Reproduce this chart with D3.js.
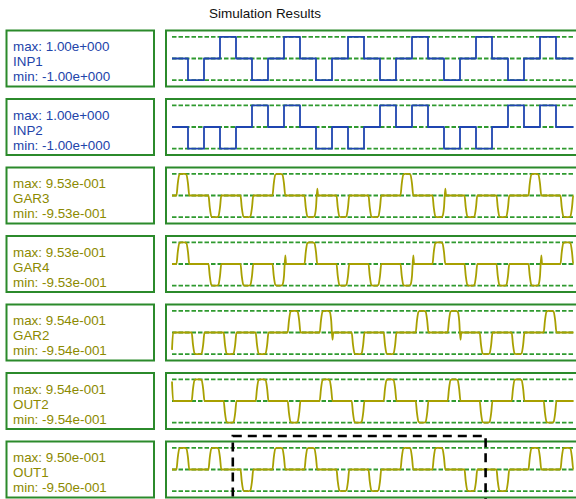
<!DOCTYPE html>
<html><head><meta charset="utf-8">
<script src="https://cdn.jsdelivr.net/npm/d3@7/dist/d3.min.js"></script>
<style>html,body{margin:0;padding:0;background:#fff;overflow:hidden}</style>
</head><body>
<script>
// ---- data ----
const title = "Simulation Results";
const signalNames = ["INP1", "INP2", "GAR3", "GAR4", "GAR2", "OUT2", "OUT1"];
const maxLabels = ["1.00e+000", "1.00e+000", "9.53e-001", "9.53e-001", "9.54e-001", "9.54e-001", "9.50e-001"];
const minLabels = ["-1.00e+000", "-1.00e+000", "-9.53e-001", "-9.53e-001", "-9.54e-001", "-9.54e-001", "-9.50e-001"];
const amplitudes = [1.0, 1.0, 0.953, 0.953, 0.954, 0.954, 0.950];
const timeDomain = [0, 25.1];

// step inputs: level on each unit interval [k, k+1)
const inp1Levels = [0,-1,0,1, 0,-1,0,1, 0,-1,0,1, 0,-1,0,1, 0,-1,0,1, 0,-1,0,1, 0];
const inp2Levels = [0,-1,0,-1,0,1,0,1, 0,-1,0,-1,0,1,0,1, 0,-1,0,-1,0,1,0,1, 0];

// pulse outputs: sign of pulse in each 2-unit slot
const gar3Slots = [1,-1,-1,1,-1,-1,-1,1,-1,-1,-1,1,-1];
const gar4Slots = [1,-1,-1,-1,1,-1,-1,-1,1,-1,-1,-1,1];
const gar2Slots = [-1,-1,-1,1,1,-1,-1,1,1,-1,-1,1];
const out2Slots = [1,-1,1,-1,1,-1,1,-1,1,-1,1,-1];
const out1Slots = [1,1,-1,1,1,-1,-1,1,1,-1,-1,1,1];
// first slot start time for each pulse signal
const slotStart = {GAR3: 0.28, GAR4: 0.28, GAR2: 1.23, OUT2: 1.23, OUT1: 0.28};
// glitches: [slot index, glitch level] at the trailing edge of a pulse
const gar3Glitches = [[4, 0.32], [8, 0.32]];
const gar4Glitches = [[3, 0.4], [7, 0.4], [11, 0.4]];
const gar2Glitches = [[4, -0.33], [8, -0.33]];
// initial value at t = 0
const initialValues = {GAR3: 0, GAR4: 0, GAR2: -0.8, OUT2: 0.9, OUT1: 0};
const highlightRange = [3.8, 19.6];

// ---- layout ----
const W = 576, H = 499;
const rowTop0 = 30.5, rowStep = 68.5, rowH = 56;
const plotX0 = 172, plotX1 = 573.6;
const blue = "#1f45b0", blueText = "#2244aa";
const olive = "#a8a000", oliveText = "#8c8a00";
const boxGreen = "#2b8a2b", gridGreen = "#2f9a2f";

const svg = d3.select("body").append("svg").attr("width", W).attr("height", H)
  .style("font-family", "'Liberation Sans', Arial, sans-serif");

svg.append("text").attr("x", 265).attr("y", 18).attr("text-anchor", "middle")
  .attr("font-size", 13.5).attr("fill", "#111").text(title);

const x = d3.scaleLinear().domain(timeDomain).range([plotX0, plotX1]);

function pulsePoints(name, slots, glitches) {
  const pts = [[0, initialValues[name]], [0.07, 0]];
  const g = new Map(glitches);
  const s0 = slotStart[name];
  slots.forEach((v, k) => {
    const ts = s0 + 2 * k, te = ts + 0.8;
    pts.push([ts, 0], [ts + 0.08, v * 0.55], [ts + 0.18, v * 0.96], [ts + 0.3, v],
             [te - 0.3, v], [te - 0.18, v * 0.96], [te - 0.08, v * 0.55]);
    if (g.has(k)) {
      pts.push([te, g.get(k)], [te + 0.05, 0]);
    } else {
      pts.push([te, 0]);
    }
  });
  pts.push([timeDomain[1], 0]);
  return pts.filter(p => p[0] <= timeDomain[1]);
}

const rows = [
  {type: "step", data: inp1Levels},
  {type: "step", data: inp2Levels},
  {type: "pulse", data: gar3Slots, glitches: gar3Glitches},
  {type: "pulse", data: gar4Slots, glitches: gar4Glitches},
  {type: "pulse", data: gar2Slots, glitches: gar2Glitches},
  {type: "pulse", data: out2Slots, glitches: []},
  {type: "pulse", data: out1Slots, glitches: []}
];

rows.forEach((r, i) => {
  const top = rowTop0 + rowStep * i;
  const name = signalNames[i];
  const isBlue = i < 2;
  const amp = amplitudes[i];
  const y = d3.scaleLinear().domain([-amp, amp]).range([top + 49.7, top + 6.3]);
  const yn = d3.scaleLinear().domain([-1, 1]).range([top + 49.7, top + 6.3]);

  // label box
  svg.append("rect").attr("x", 6.5).attr("y", top).attr("width", 147.5).attr("height", rowH)
    .attr("fill", "none").attr("stroke", boxGreen).attr("stroke-width", 2);
  const tc = isBlue ? blueText : oliveText;
  const lbl = svg.append("g").attr("font-size", 13.4).attr("fill", tc);
  lbl.append("text").attr("x", 13).attr("y", top + 20.8).text("max: " + maxLabels[i]);
  lbl.append("text").attr("x", 13).attr("y", top + 35.8).text(name);
  lbl.append("text").attr("x", 13).attr("y", top + 50.8).text("min: " + minLabels[i]);

  // plot box
  svg.append("rect").attr("x", 166).attr("y", top).attr("width", 430).attr("height", rowH)
    .attr("fill", "none").attr("stroke", boxGreen).attr("stroke-width", 2);

  // dashed reference lines at max, 0, min
  [amp, 0, -amp].forEach(v => {
    svg.append("line").attr("x1", x(timeDomain[0])).attr("x2", x(timeDomain[1]))
      .attr("y1", y(v)).attr("y2", y(v))
      .attr("stroke", gridGreen).attr("stroke-width", 1.8).attr("stroke-dasharray", "4.5,2");
  });

  let path;
  if (r.type === "step") {
    const pts = r.data.map((v, k) => [k, v]);
    pts.push([timeDomain[1], r.data[r.data.length - 1]]);
    path = d3.line().x(d => x(d[0])).y(d => yn(d[1])).curve(d3.curveStepAfter)(pts);
  } else {
    const pts = pulsePoints(name, r.data, r.glitches);
    path = d3.line().x(d => x(d[0])).y(d => yn(d[1])).curve(d3.curveMonotoneX)(pts);
  }
  svg.append("path").attr("d", path).attr("fill", "none")
    .attr("stroke", isBlue ? blue : olive).attr("stroke-width", 1.8)
    .attr("stroke-linejoin", "round");
});

// dashed highlight box
svg.append("rect").attr("x", x(highlightRange[0])).attr("y", 436)
  .attr("width", x(highlightRange[1]) - x(highlightRange[0])).attr("height", 100)
  .attr("fill", "none").attr("stroke", "#000").attr("stroke-width", 2.6)
  .attr("stroke-dasharray", "9,6");
</script>
</body></html>
